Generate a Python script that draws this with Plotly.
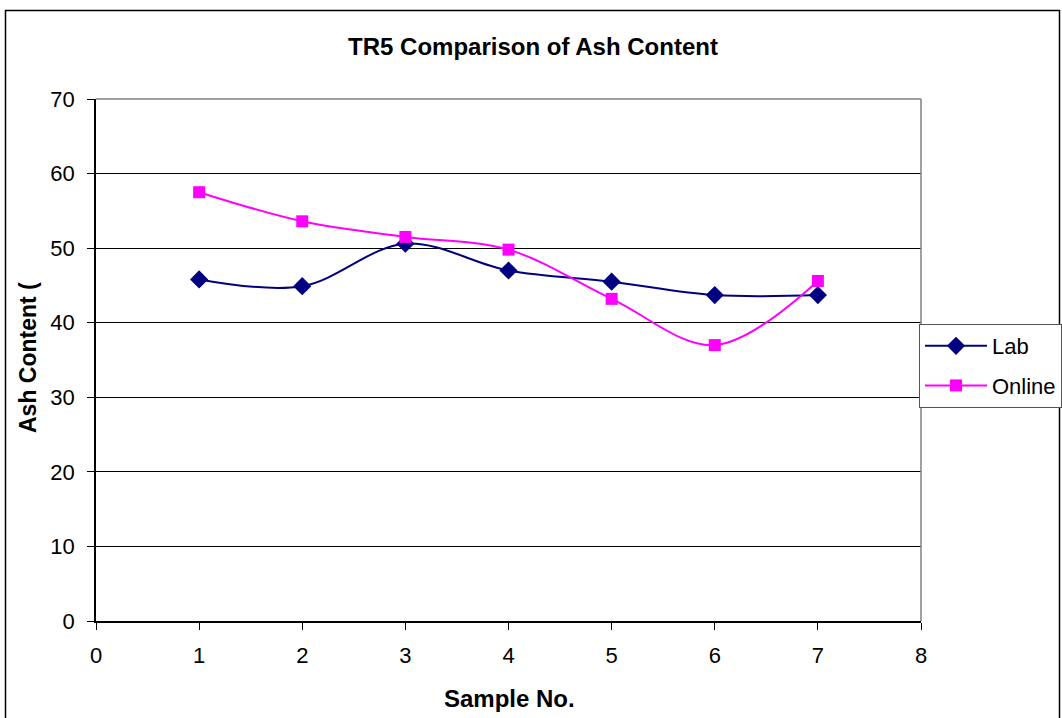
import plotly.graph_objects as go

sample_no = [1, 2, 3, 4, 5, 6, 7]
lab = [45.8, 44.9, 50.6, 47.0, 45.5, 43.7, 43.7]
online = [57.5, 53.6, 51.5, 49.8, 43.2, 37.0, 45.6]

title_text = "TR5 Comparison of Ash Content"
x_title = "Sample No."
y_title = "Ash Content ("

W, H = 1062, 718
L, R, T, B = 96, 921, 99, 621
pw, ph = R - L, B - T

def px(xp):
    return (xp - L) / pw

def py(yp):
    return (B - yp) / ph

FONT = "Liberation Sans, Arial, sans-serif"

fig = go.Figure()
fig.add_trace(go.Scatter(
    x=sample_no, y=lab, name="Lab", mode="lines+markers", legendgroup="a",
    line=dict(color="#000080", width=2, shape="spline", smoothing=1),
    marker=dict(symbol="diamond", size=14, color="#000080"),
))
fig.add_trace(go.Scatter(
    x=sample_no, y=online, name="Online", mode="lines+markers", legendgroup="b",
    line=dict(color="#FF00FF", width=2, shape="spline", smoothing=1),
    marker=dict(symbol="square", size=12, color="#FF00FF"),
))

fig.update_layout(
    width=W, height=H,
    margin=dict(l=L, r=W - R, t=T, b=H - B, pad=0, autoexpand=False),
    paper_bgcolor="white", plot_bgcolor="white",
    font=dict(family=FONT, size=22, color="black"),
    title=dict(text="<b>" + title_text + "</b>", x=px(533), xref="paper",
               xanchor="center", y=1 - 47 / H, yref="container", yanchor="middle",
               font=dict(size=24, family=FONT, color="black")),
    showlegend=True,
    legend=dict(x=px(919), y=py(324), xanchor="left", yanchor="top",
                bordercolor="#555555", borderwidth=1, bgcolor="white",
                font=dict(size=22, family=FONT, color="black"),
                tracegroupgap=8, itemwidth=62),
    xaxis=dict(range=[0, 8], dtick=1, tick0=0, showgrid=False, zeroline=False,
               showline=True, linecolor="black", linewidth=1.5,
               ticks="outside", ticklen=7, tickcolor="black", tickwidth=1,
               ticklabelstandoff=7, tickfont=dict(size=22, family=FONT)),
    yaxis=dict(range=[0, 70], dtick=10, tick0=0, showgrid=True, gridcolor="black",
               gridwidth=1, zeroline=False, showline=True, linecolor="black",
               linewidth=1.5, ticks="outside", ticklen=7, tickcolor="black",
               tickwidth=1, ticklabelstandoff=8, tickfont=dict(size=22, family=FONT)),
)

fig.add_annotation(text="<b>" + x_title + "</b>", x=px(509), y=py(698),
                   xref="paper", yref="paper", showarrow=False,
                   xanchor="center", yanchor="middle",
                   font=dict(size=24, family=FONT, color="black"))
fig.add_annotation(text="<b>" + y_title + "</b>", x=px(28), y=py(358),
                   xref="paper", yref="paper", showarrow=False, textangle=-90,
                   xanchor="center", yanchor="middle",
                   font=dict(size=23, family=FONT, color="black"))

# plot area border (grey) top and right
fig.add_shape(type="line", xref="paper", yref="paper", x0=0, x1=1, y0=1, y1=1,
              line=dict(color="#808080", width=1.5), layer="above")
fig.add_shape(type="line", xref="paper", yref="paper", x0=1, x1=1, y0=0, y1=1,
              line=dict(color="#808080", width=1.5), layer="above")
# outer chart border
fig.add_shape(type="rect", xref="paper", yref="paper",
              x0=px(5.5), x1=px(1059.5), y0=py(730), y1=py(10.5),
              line=dict(color="black", width=1.5), layer="below")

fig.write_html("out.html")
